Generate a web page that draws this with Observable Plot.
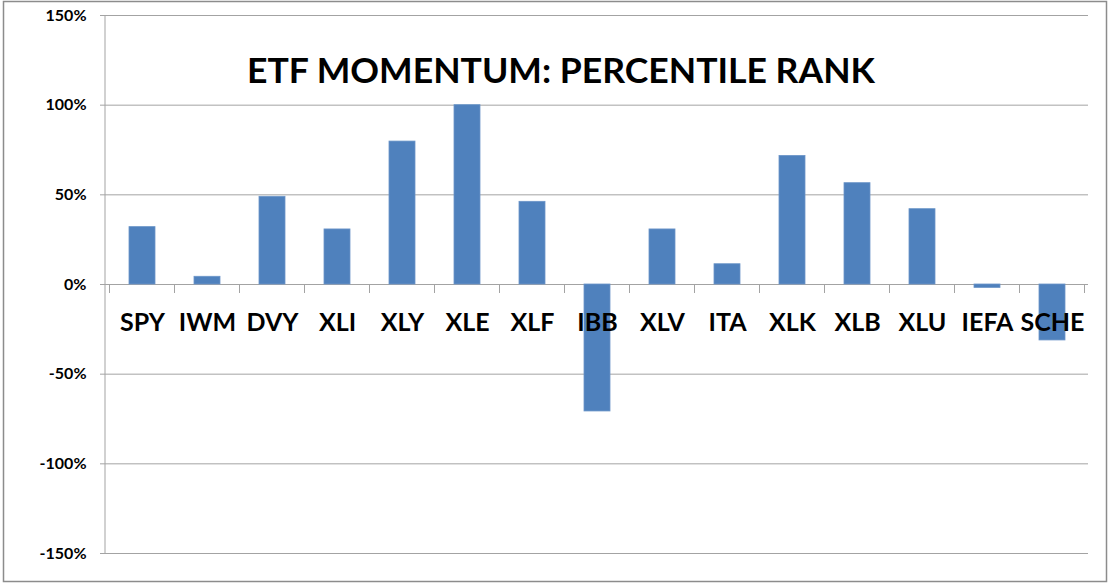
<!DOCTYPE html>
<html>
<head>
<meta charset="utf-8">
<script src="https://cdn.jsdelivr.net/npm/d3@7"></script>
<script src="https://cdn.jsdelivr.net/npm/@observablehq/plot@0.6"></script>
<style>
  html, body { margin: 0; padding: 0; background: #ffffff; }
  #chart svg { display: block; }
</style>
</head>
<body>
<div id="chart"></div>
<script>
const titleText = "ETF MOMENTUM: PERCENTILE RANK";
const tickers = ["SPY","IWM","DVY","XLI","XLY","XLE","XLF","IBB","XLV","ITA","XLK","XLB","XLU","IEFA","SCHE"];
const ranks = [0.32, 0.043, 0.489, 0.307, 0.797, 1.00, 0.461, -0.708, 0.307, 0.113, 0.717, 0.565, 0.42, -0.019, -0.312];
const yTicks = [-1.5, -1, -0.5, 0, 0.5, 1, 1.5];

const data = tickers.map((t, i) => ({ticker: t, value: ranks[i]}));
const font = "Lato, 'Open Sans', 'Liberation Sans', sans-serif";
const gridColor = "#a3a3a3";

const chart = Plot.plot({
  width: 1110,
  height: 584,
  marginLeft: 105,
  marginRight: 22,
  marginTop: 15,
  marginBottom: 31,
  style: { fontFamily: font, background: "#ffffff", overflow: "visible" },
  x: { domain: tickers, paddingInner: 0.6, paddingOuter: 0.3, axis: null },
  y: { domain: [-1.5, 1.5], ticks: yTicks, axis: null },
  marks: [
    Plot.gridY(yTicks, { stroke: gridColor, strokeOpacity: 1, strokeWidth: 1 }),
    Plot.barY(data, { x: "ticker", y: "value", fill: "#4f81bd", stroke: "#6b95c8", strokeWidth: 0.8 }),
    Plot.axisY(yTicks, {
      tickSize: 5, tickPadding: 14, stroke: gridColor,
      tickFormat: d => Math.round(d * 100) + "%",
      fontSize: 16, fontWeight: "bold", fill: "#000", label: null
    }),
    Plot.text(data, {
      x: "ticker", y: () => 0, text: "ticker", dy: 38,
      fontSize: 25, fontWeight: "bold", fill: "#000", textAnchor: "middle"
    })
  ]
});

const svg = d3.select(chart);
const xs = chart.scale("x");
const ys = chart.scale("y");
const step = xs.step;
const y0 = ys.apply(0);
const left = xs.range[0];
const right = xs.range[1];

// y axis line
svg.append("line")
  .attr("x1", left).attr("x2", left)
  .attr("y1", ys.apply(1.5)).attr("y2", ys.apply(-1.5))
  .attr("stroke", gridColor);

// horizontal zero axis line and category boundary ticks
const bounds = tickers.map(t => xs.apply(t) + xs.bandwidth / 2 - step / 2);
bounds.push(xs.apply(tickers[tickers.length - 1]) + xs.bandwidth / 2 + step / 2);
svg.append("g").selectAll("line").data(bounds).join("line")
  .attr("x1", d => d).attr("x2", d => d)
  .attr("y1", y0).attr("y2", y0 + 9)
  .attr("stroke", gridColor);

// outer border
svg.append("rect")
  .attr("x", 3.5).attr("y", 1.5)
  .attr("width", 1103).attr("height", 580)
  .attr("fill", "none").attr("stroke", "#8c8c8c").attr("stroke-width", 1.5);

// title
svg.append("text")
  .attr("x", 561).attr("y", 83)
  .attr("text-anchor", "middle")
  .attr("font-family", font)
  .attr("font-weight", "bold")
  .attr("font-size", 35)
  .attr("textLength", 628)
  .attr("lengthAdjust", "spacingAndGlyphs")
  .attr("fill", "#000")
  .text(titleText);

document.getElementById("chart").appendChild(chart);
</script>
</body>
</html>
